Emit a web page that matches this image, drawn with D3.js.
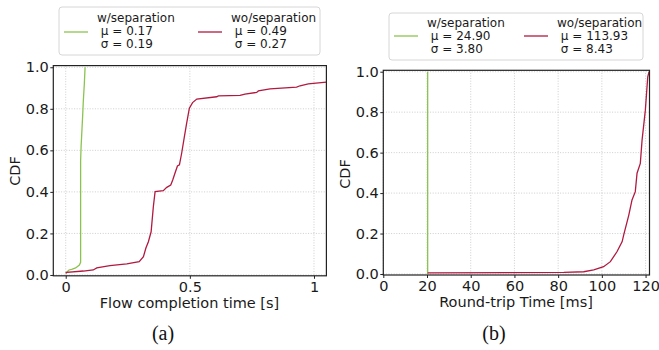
<!DOCTYPE html>
<html>
<head>
<meta charset="utf-8">
<script src="https://cdn.jsdelivr.net/npm/d3@7"></script>
<style>
  body { margin: 0; background: #fff; }
  svg { display: block; font-family: "DejaVu Sans", sans-serif; }
  .legend text { white-space: pre; }
</style>
</head>
<body>
<svg id="chart" width="659" height="350"></svg>
<script>
// (a) flow completion time CDF
const fctSepX = [0, 0.013, 0.024, 0.04, 0.055, 0.06, 0.06, 0.062, 0.064, 0.068, 0.071, 0.075, 0.078];
const fctSepY = [0.008, 0.024, 0.027, 0.034, 0.048, 0.061, 0.55, 0.62, 0.666, 0.76, 0.84, 0.92, 1.0];
const fctNoSepX = [0, 0.004, 0.071, 0.111, 0.125, 0.178, 0.246, 0.296, 0.313, 0.323, 0.333, 0.344, 0.353, 0.36,
    0.393, 0.407, 0.423, 0.431, 0.44, 0.45, 0.458, 0.467, 0.478, 0.487, 0.498, 0.511, 0.528, 0.608, 0.615,
    0.702, 0.722, 0.769, 0.776, 0.823, 0.93, 0.944, 0.977, 1.05];
const fctNoSepY = [0.008, 0.013, 0.019, 0.024, 0.034, 0.045, 0.053, 0.064, 0.088, 0.13, 0.16, 0.208, 0.329, 0.401,
    0.406, 0.422, 0.433, 0.457, 0.49, 0.525, 0.53, 0.586, 0.666, 0.73, 0.803, 0.83, 0.847, 0.858, 0.862,
    0.865, 0.871, 0.879, 0.886, 0.896, 0.904, 0.911, 0.92, 0.928];

// (b) round-trip time CDF
const rttSepX = [20.3, 20.3];
const rttSepY = [0, 1.0];
const rttNoSepX = [20.3, 82.6, 91.7, 96.3, 100.8, 103.9, 106.9, 109.3, 110, 112.3, 113.8, 115.3, 116.1,
    117.6, 118.4, 119.9, 121, 121.6];
const rttNoSepY = [0.006, 0.008, 0.011, 0.02, 0.036, 0.061, 0.11, 0.16, 0.193, 0.29, 0.366, 0.407, 0.498,
    0.547, 0.662, 0.81, 0.975, 1.0];

const yTicks = [0, 0.2, 0.4, 0.6, 0.8, 1.0];
const fctTicks = [0, 0.5, 1];
const rttTicks = [0, 20, 40, 60, 80, 100, 120];

const seriesNames = ['w/separation', 'wo/separation'];
const fctStats = [['0.17', '0.19'], ['0.49', '0.27']];
const rttStats = [['24.90', '3.80'], ['113.93', '8.43']];

const colours = ['#8cc350', '#b11a40'];

const svg = d3.select('#chart');

function drawPanel(cfg) {
    const x = d3.scaleLinear().domain(cfg.xDomain).range(cfg.xRange);
    const y = d3.scaleLinear().domain(cfg.yDomain).range(cfg.yRange);
    const [left, right] = cfg.xRange;
    const [bottom, top] = cfg.yRange;

    const g = svg.append('g');

    // grid
    g.append('g').selectAll('line')
        .data(cfg.xTicks)
        .join('line')
        .attr('x1', d => x(d)).attr('x2', d => x(d))
        .attr('y1', top).attr('y2', bottom)
        .attr('stroke', '#c8c8c8').attr('stroke-width', 0.9)
        .attr('stroke-dasharray', '1,1.6');
    g.append('g').selectAll('line')
        .data(yTicks)
        .join('line')
        .attr('x1', left).attr('x2', right)
        .attr('y1', d => y(d)).attr('y2', d => y(d))
        .attr('stroke', '#c8c8c8').attr('stroke-width', 0.9)
        .attr('stroke-dasharray', '1,1.6');

    // curves
    const clipId = 'clip-' + cfg.id;
    g.append('clipPath').attr('id', clipId)
        .append('rect')
        .attr('x', left).attr('y', top)
        .attr('width', right - left).attr('height', bottom - top);

    const line = d3.line().x(d => x(d[0])).y(d => y(d[1]));
    cfg.series.forEach((s, i) => {
        g.append('path')
            .datum(d3.zip(s[0], s[1]))
            .attr('clip-path', `url(#${clipId})`)
            .attr('fill', 'none')
            .attr('stroke', colours[i])
            .attr('stroke-width', 1.3)
            .attr('d', line);
    });

    // axes
    const xAxis = d3.axisBottom(x)
        .tickValues(cfg.xTicks)
        .tickFormat(cfg.xFormat)
        .tickSize(3).tickPadding(3).tickSizeOuter(0);
    const yAxis = d3.axisLeft(y)
        .tickValues(yTicks)
        .tickFormat(d3.format('.1f'))
        .tickSize(3).tickPadding(1.5).tickSizeOuter(0);

    g.append('g')
        .attr('transform', `translate(0,${bottom})`)
        .call(xAxis)
        .call(a => a.select('.domain').remove())
        .call(a => a.selectAll('text').attr('font-size', 14.5).attr('fill', '#1a1a1a')
            .attr('font-family', '"DejaVu Sans", sans-serif'))
        .call(a => a.selectAll('line').attr('stroke', '#222'));
    g.append('g')
        .attr('transform', `translate(${left},0)`)
        .call(yAxis)
        .call(a => a.select('.domain').remove())
        .call(a => a.selectAll('text').attr('font-size', 14.5).attr('fill', '#1a1a1a')
            .attr('font-family', '"DejaVu Sans", sans-serif'))
        .call(a => a.selectAll('line').attr('stroke', '#222'));

    // frame
    g.append('rect')
        .attr('x', left).attr('y', top)
        .attr('width', right - left).attr('height', bottom - top)
        .attr('fill', 'none').attr('stroke', '#222').attr('stroke-width', 1.2);

    // axis titles
    g.append('text')
        .attr('x', cfg.xLabelPos[0]).attr('y', cfg.xLabelPos[1])
        .attr('text-anchor', 'middle')
        .attr('font-size', 14.5).attr('fill', '#1a1a1a')
        .text(cfg.xLabel);
    g.append('text')
        .attr('transform', `translate(${cfg.yLabelPos[0]},${cfg.yLabelPos[1]}) rotate(-90)`)
        .attr('text-anchor', 'middle')
        .attr('font-size', 14.5).attr('fill', '#1a1a1a')
        .text('CDF');

    // caption
    g.append('text')
        .attr('x', cfg.captionPos[0]).attr('y', cfg.captionPos[1])
        .attr('text-anchor', 'middle')
        .attr('font-family', '"Liberation Serif", "Times New Roman", serif')
        .attr('font-size', 20).attr('fill', '#111')
        .text(cfg.caption);

    // legend
    const lg = cfg.legend;
    const leg = g.append('g').attr('class', 'legend');
    leg.append('rect')
        .attr('x', lg.box[0]).attr('y', lg.box[1])
        .attr('width', lg.box[2]).attr('height', lg.box[3])
        .attr('rx', 3)
        .attr('fill', '#fff').attr('stroke', '#d6d6d6').attr('stroke-width', 1);
    seriesNames.forEach((name, i) => {
        const hx = lg.handleX[i];
        leg.append('line')
            .attr('x1', hx).attr('x2', hx + 24)
            .attr('y1', lg.handleY).attr('y2', lg.handleY)
            .attr('stroke', colours[i]).attr('stroke-width', 1.3);
        const lines = [name, ' \u03bc = ' + cfg.stats[i][0], ' \u03c3 = ' + cfg.stats[i][1]];
        const t = leg.append('text')
            .attr('font-size', 12).attr('fill', '#1a1a1a');
        lines.forEach((l, j) => {
            t.append('tspan')
                .attr('x', hx + 33)
                .attr('y', lg.baseline + j * 13.2)
                .text(l);
        });
    });
}

drawPanel({
    id: 'a',
    xDomain: [-0.05, 1.05], xRange: [53.3, 326.4],
    yDomain: [-0.004, 1.008], yRange: [275.8, 65.6],
    xTicks: fctTicks, xFormat: d3.format('~g'),
    series: [[fctSepX, fctSepY], [fctNoSepX, fctNoSepY]],
    xLabel: 'Flow completion time [s]', xLabelPos: [189.5, 308],
    yLabelPos: [20, 171],
    caption: '(a)', captionPos: [163, 340],
    stats: fctStats,
    legend: { box: [59, 7, 261, 48], handleX: [64, 198], handleY: 32, baseline: 21.5 }
});

drawPanel({
    id: 'b',
    xDomain: [0, 121.8], xRange: [383.3, 649.5],
    yDomain: [-0.005, 1.007], yRange: [275, 70.3],
    xTicks: rttTicks, xFormat: d3.format('d'),
    series: [[rttSepX, rttSepY], [rttNoSepX, rttNoSepY]],
    xLabel: 'Round-trip Time [ms]', xLabelPos: [516, 307],
    yLabelPos: [350, 174],
    caption: '(b)', captionPos: [494, 340],
    stats: rttStats,
    legend: { box: [389, 13, 254, 47], handleX: [394, 524], handleY: 36, baseline: 26.7 }
});
</script>
</body>
</html>
